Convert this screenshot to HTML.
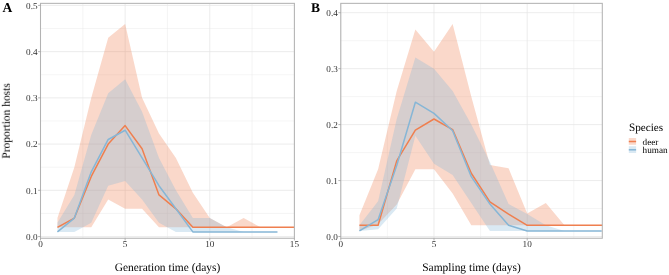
<!DOCTYPE html>
<html><head><meta charset="utf-8"><style>
html,body{margin:0;padding:0;background:#fff;}
body{width:669px;height:275px;overflow:hidden;}
svg{display:block;}
.t{will-change:transform;}
text{font-family:"Liberation Serif",serif;text-rendering:geometricPrecision;}
.tk{font-size:9.2px;fill:#333333;}
.at{font-size:11.46px;fill:#000;}
.lt{font-size:11.2px;fill:#000;}
.ll{font-size:9.2px;fill:#000;}
.tag{font-size:13.5px;font-weight:bold;fill:#000;}
</style></head><body>
<svg width="669" height="275" viewBox="0 0 669 275">
<rect width="669" height="275" fill="#fff"/>
<clipPath id="clipA"><rect x="40.5" y="3.35" width="253.9" height="234.9"/></clipPath>
<g clip-path="url(#clipA)">
<line x1="40.5" x2="294.4" y1="213.44" y2="213.44" stroke="#E8E8E8" stroke-width="0.45"/>
<line x1="40.5" x2="294.4" y1="167.21" y2="167.21" stroke="#E8E8E8" stroke-width="0.45"/>
<line x1="40.5" x2="294.4" y1="120.98" y2="120.98" stroke="#E8E8E8" stroke-width="0.45"/>
<line x1="40.5" x2="294.4" y1="74.75" y2="74.75" stroke="#E8E8E8" stroke-width="0.45"/>
<line x1="40.5" x2="294.4" y1="28.52" y2="28.52" stroke="#E8E8E8" stroke-width="0.45"/>
<line x1="82.82" x2="82.82" y1="3.35" y2="238.25" stroke="#E8E8E8" stroke-width="0.45"/>
<line x1="167.45" x2="167.45" y1="3.35" y2="238.25" stroke="#E8E8E8" stroke-width="0.45"/>
<line x1="252.08" x2="252.08" y1="3.35" y2="238.25" stroke="#E8E8E8" stroke-width="0.45"/>
<line x1="40.5" x2="294.4" y1="236.55" y2="236.55" stroke="#E5E5E5" stroke-width="0.74"/>
<line x1="40.5" x2="294.4" y1="190.32" y2="190.32" stroke="#E5E5E5" stroke-width="0.74"/>
<line x1="40.5" x2="294.4" y1="144.09" y2="144.09" stroke="#E5E5E5" stroke-width="0.74"/>
<line x1="40.5" x2="294.4" y1="97.86" y2="97.86" stroke="#E5E5E5" stroke-width="0.74"/>
<line x1="40.5" x2="294.4" y1="51.63" y2="51.63" stroke="#E5E5E5" stroke-width="0.74"/>
<line x1="40.5" x2="294.4" y1="5.4" y2="5.4" stroke="#E5E5E5" stroke-width="0.74"/>
<line x1="40.5" x2="40.5" y1="3.35" y2="238.25" stroke="#E5E5E5" stroke-width="0.74"/>
<line x1="125.13" x2="125.13" y1="3.35" y2="238.25" stroke="#E5E5E5" stroke-width="0.74"/>
<line x1="209.77" x2="209.77" y1="3.35" y2="238.25" stroke="#E5E5E5" stroke-width="0.74"/>
<line x1="294.4" x2="294.4" y1="3.35" y2="238.25" stroke="#E5E5E5" stroke-width="0.74"/>
<polygon points="57.43,218.06 74.35,167.21 91.28,97.86 108.21,37.76 125.13,23.89 142.06,97.86 158.99,133.46 175.91,157.96 192.84,192.63 209.77,218.06 226.69,227.3 243.62,218.06 260.55,227.3 277.47,227.3 294.4,227.3 294.4,227.3 277.47,227.3 260.55,227.3 243.62,227.3 226.69,227.3 209.77,227.3 192.84,227.3 175.91,227.3 158.99,227.3 142.06,208.81 125.13,208.81 108.21,199.57 91.28,227.3 74.35,227.3 57.43,227.3" fill="#EF7F4F" fill-opacity="0.3"/>
<polygon points="57.43,222.68 74.35,194.94 91.28,134.84 108.21,93.24 125.13,79.37 142.06,111.73 158.99,157.96 175.91,190.32 192.84,218.06 209.77,218.06 226.69,227.3 243.62,231.93 260.55,231.93 277.47,231.93 277.47,231.93 260.55,231.93 243.62,231.93 226.69,231.93 209.77,231.93 192.84,231.93 175.91,231.93 158.99,222.68 142.06,199.57 125.13,181.07 108.21,185.7 91.28,222.68 74.35,231.93 57.43,231.93" fill="#86B6D6" fill-opacity="0.3"/>
<polyline points="57.43,227.3 74.35,218.06 91.28,176.45 108.21,144.09 125.13,125.6 142.06,148.71 158.99,194.94 175.91,208.81 192.84,227.3 209.77,227.3 226.69,227.3 243.62,227.3 260.55,227.3 277.47,227.3 294.4,227.3" fill="none" stroke="#EF7F4F" stroke-width="1.5" stroke-linejoin="round"/>
<polyline points="57.43,231.93 74.35,218.06 91.28,171.83 108.21,139.47 125.13,130.22 142.06,157.96 158.99,185.7 175.91,208.81 192.84,231.93 209.77,231.93 226.69,231.93 243.62,231.93 260.55,231.93 277.47,231.93" fill="none" stroke="#86B6D6" stroke-width="1.5" stroke-linejoin="round"/>
</g>
<rect x="40.5" y="3.35" width="253.9" height="234.9" fill="none" stroke="#B3B3B3" stroke-width="1.05"/>
<line x1="38.1" x2="40.5" y1="236.55" y2="236.55" stroke="#A0A0A0" stroke-width="0.8"/>
<line x1="38.1" x2="40.5" y1="190.32" y2="190.32" stroke="#A0A0A0" stroke-width="0.8"/>
<line x1="38.1" x2="40.5" y1="144.09" y2="144.09" stroke="#A0A0A0" stroke-width="0.8"/>
<line x1="38.1" x2="40.5" y1="97.86" y2="97.86" stroke="#A0A0A0" stroke-width="0.8"/>
<line x1="38.1" x2="40.5" y1="51.63" y2="51.63" stroke="#A0A0A0" stroke-width="0.8"/>
<line x1="38.1" x2="40.5" y1="5.4" y2="5.4" stroke="#A0A0A0" stroke-width="0.8"/>
<line x1="40.5" x2="40.5" y1="238.25" y2="240.45" stroke="#A0A0A0" stroke-width="0.8"/>
<line x1="125.13" x2="125.13" y1="238.25" y2="240.45" stroke="#A0A0A0" stroke-width="0.8"/>
<line x1="209.77" x2="209.77" y1="238.25" y2="240.45" stroke="#A0A0A0" stroke-width="0.8"/>
<line x1="294.4" x2="294.4" y1="238.25" y2="240.45" stroke="#A0A0A0" stroke-width="0.8"/>
<g class="t"><text x="37.6" y="239.85" text-anchor="end" class="tk">0.0</text>
<text x="37.6" y="193.62" text-anchor="end" class="tk">0.1</text>
<text x="37.6" y="147.39" text-anchor="end" class="tk">0.2</text>
<text x="37.6" y="101.16" text-anchor="end" class="tk">0.3</text>
<text x="37.6" y="54.93" text-anchor="end" class="tk">0.4</text>
<text x="37.6" y="8.7" text-anchor="end" class="tk">0.5</text>
<text x="40.5" y="246.9" text-anchor="middle" class="tk">0</text>
<text x="125.13" y="246.9" text-anchor="middle" class="tk">5</text>
<text x="209.77" y="246.9" text-anchor="middle" class="tk">10</text>
<text x="294.4" y="246.9" text-anchor="middle" class="tk">15</text></g>
<clipPath id="clipB"><rect x="340.75" y="3.35" width="261.55" height="234.9"/></clipPath>
<g clip-path="url(#clipB)">
<line x1="340.75" x2="602.3" y1="208.53" y2="208.53" stroke="#E8E8E8" stroke-width="0.45"/>
<line x1="340.75" x2="602.3" y1="152.57" y2="152.57" stroke="#E8E8E8" stroke-width="0.45"/>
<line x1="340.75" x2="602.3" y1="96.62" y2="96.62" stroke="#E8E8E8" stroke-width="0.45"/>
<line x1="340.75" x2="602.3" y1="40.68" y2="40.68" stroke="#E8E8E8" stroke-width="0.45"/>
<line x1="387.4" x2="387.4" y1="3.35" y2="238.25" stroke="#E8E8E8" stroke-width="0.45"/>
<line x1="480.6" x2="480.6" y1="3.35" y2="238.25" stroke="#E8E8E8" stroke-width="0.45"/>
<line x1="573.8" x2="573.8" y1="3.35" y2="238.25" stroke="#E8E8E8" stroke-width="0.45"/>
<line x1="340.75" x2="602.3" y1="236.5" y2="236.5" stroke="#E5E5E5" stroke-width="0.74"/>
<line x1="340.75" x2="602.3" y1="180.55" y2="180.55" stroke="#E5E5E5" stroke-width="0.74"/>
<line x1="340.75" x2="602.3" y1="124.6" y2="124.6" stroke="#E5E5E5" stroke-width="0.74"/>
<line x1="340.75" x2="602.3" y1="68.65" y2="68.65" stroke="#E5E5E5" stroke-width="0.74"/>
<line x1="340.75" x2="602.3" y1="12.7" y2="12.7" stroke="#E5E5E5" stroke-width="0.74"/>
<line x1="340.8" x2="340.8" y1="3.35" y2="238.25" stroke="#E5E5E5" stroke-width="0.74"/>
<line x1="434" x2="434" y1="3.35" y2="238.25" stroke="#E5E5E5" stroke-width="0.74"/>
<line x1="527.2" x2="527.2" y1="3.35" y2="238.25" stroke="#E5E5E5" stroke-width="0.74"/>
<polygon points="359.44,215.24 378.08,169.36 396.72,91.03 415.36,29.49 434,51.86 452.64,23.89 471.28,96.62 489.92,164.88 508.56,168.24 527.2,213.56 545.84,202.93 564.48,225.31 583.12,225.31 601.76,225.31 620.4,225.31 620.4,225.31 601.76,225.31 583.12,225.31 564.48,225.31 545.84,225.31 527.2,225.31 508.56,225.31 489.92,225.31 471.28,225.31 452.64,193.42 434,169.36 415.36,169.36 396.72,204.61 378.08,224.19 359.44,230.91" fill="#EF7F4F" fill-opacity="0.3"/>
<polygon points="359.44,225.31 378.08,201.25 396.72,119.01 415.36,57.46 434,68.65 452.64,91.03 471.28,124.6 489.92,162.09 508.56,204.05 527.2,214.12 545.84,225.31 564.48,230.91 583.12,230.91 601.76,230.91 601.76,230.91 583.12,230.91 564.48,230.91 545.84,230.91 527.2,230.91 508.56,230.91 489.92,230.91 471.28,202.93 452.64,174.95 434,163.76 415.36,135.79 396.72,208.53 378.08,229.23 359.44,230.91" fill="#86B6D6" fill-opacity="0.3"/>
<polyline points="359.44,225.31 378.08,225.31 396.72,160.97 415.36,130.19 434,119.01 452.64,129.64 471.28,173.28 489.92,201.81 508.56,214.12 527.2,225.31 545.84,225.31 564.48,225.31 583.12,225.31 601.76,225.31 620.4,225.31" fill="none" stroke="#EF7F4F" stroke-width="1.5" stroke-linejoin="round"/>
<polyline points="359.44,230.91 378.08,219.72 396.72,165.44 415.36,102.22 434,113.41 452.64,130.75 471.28,176.63 489.92,204.05 508.56,225.31 527.2,230.91 545.84,230.91 564.48,230.91 583.12,230.91 601.76,230.91" fill="none" stroke="#86B6D6" stroke-width="1.5" stroke-linejoin="round"/>
</g>
<rect x="340.75" y="3.35" width="261.55" height="234.9" fill="none" stroke="#B3B3B3" stroke-width="1.05"/>
<line x1="338.35" x2="340.75" y1="236.5" y2="236.5" stroke="#A0A0A0" stroke-width="0.8"/>
<line x1="338.35" x2="340.75" y1="180.55" y2="180.55" stroke="#A0A0A0" stroke-width="0.8"/>
<line x1="338.35" x2="340.75" y1="124.6" y2="124.6" stroke="#A0A0A0" stroke-width="0.8"/>
<line x1="338.35" x2="340.75" y1="68.65" y2="68.65" stroke="#A0A0A0" stroke-width="0.8"/>
<line x1="338.35" x2="340.75" y1="12.7" y2="12.7" stroke="#A0A0A0" stroke-width="0.8"/>
<line x1="340.8" x2="340.8" y1="238.25" y2="240.45" stroke="#A0A0A0" stroke-width="0.8"/>
<line x1="434" x2="434" y1="238.25" y2="240.45" stroke="#A0A0A0" stroke-width="0.8"/>
<line x1="527.2" x2="527.2" y1="238.25" y2="240.45" stroke="#A0A0A0" stroke-width="0.8"/>
<g class="t"><text x="337.85" y="239.8" text-anchor="end" class="tk">0.0</text>
<text x="337.85" y="183.85" text-anchor="end" class="tk">0.1</text>
<text x="337.85" y="127.9" text-anchor="end" class="tk">0.2</text>
<text x="337.85" y="71.95" text-anchor="end" class="tk">0.3</text>
<text x="337.85" y="16" text-anchor="end" class="tk">0.4</text>
<text x="340.8" y="246.9" text-anchor="middle" class="tk">0</text>
<text x="434" y="246.9" text-anchor="middle" class="tk">5</text>
<text x="527.2" y="246.9" text-anchor="middle" class="tk">10</text></g>
<g class="t">

<text x="629" y="130.8" class="lt">Species</text>
<rect x="628.8" y="138" width="7.3" height="6.8" fill="#EF7F4F" fill-opacity="0.3"/>
<line x1="628.8" x2="636.1" y1="141.5" y2="141.5" stroke="#EF7F4F" stroke-width="1.5"/>
<rect x="628.8" y="146.2" width="7.3" height="6.8" fill="#86B6D6" fill-opacity="0.3"/>
<line x1="628.8" x2="636.1" y1="149.8" y2="149.8" stroke="#86B6D6" stroke-width="1.5"/>
<text x="642.6" y="144.6" class="ll">deer</text>
<text x="642.6" y="152.7" class="ll">human</text>


<text x="167.5" y="270.6" text-anchor="middle" class="at">Generation time (days)</text>
<text x="471.5" y="270.6" text-anchor="middle" class="at">Sampling time (days)</text>
<text transform="translate(9.8,120.9) rotate(-90)" text-anchor="middle" class="at">Proportion hosts</text>
<text x="2.4" y="12.1" class="tag">A</text>
<text x="311" y="12.1" class="tag">B</text>

</g>
</svg>
</body></html>
